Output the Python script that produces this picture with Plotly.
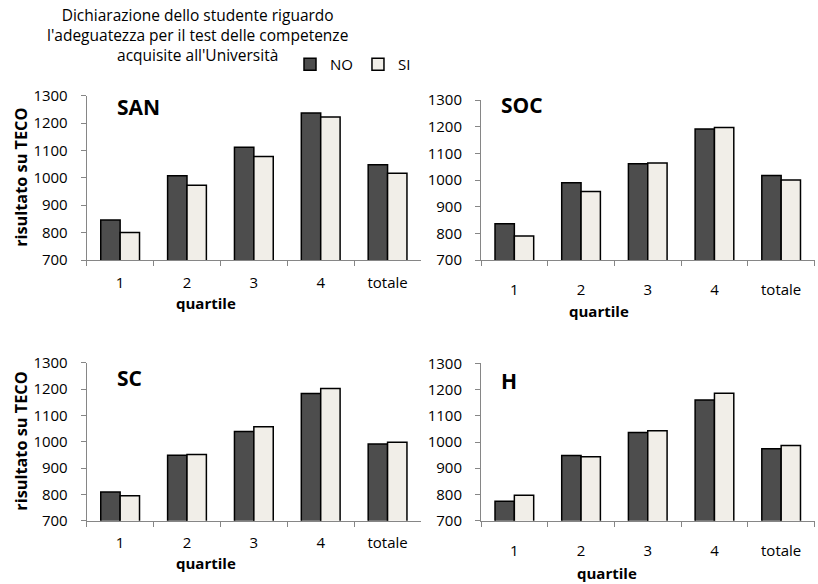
import plotly.graph_objects as go

categories = ["1", "2", "3", "4", "totale"]
panels = ["SAN", "SOC", "SC", "H"]
san_no = [846, 1008, 1112, 1237, 1048]
san_si = [800, 973, 1078, 1222, 1017]
soc_no = [836, 990, 1061, 1191, 1017]
soc_si = [790, 957, 1064, 1197, 1000]
sc_no = [809, 949, 1039, 1183, 991]
sc_si = [795, 951, 1057, 1202, 998]
h_no = [774, 949, 1036, 1160, 974]
h_si = [797, 944, 1043, 1186, 987]
series_names = ["NO", "SI"]
yticks = [700, 800, 900, 1000, 1100, 1200, 1300]
title_text = ("Dichiarazione dello studente riguardo<br>"
              "l'adeguatezza per il test delle competenze<br>"
              "acquisite all'Università")
y_title = "risultato su TECO"
x_title = "quartile"

data = {"SAN": (san_no, san_si), "SOC": (soc_no, soc_si),
        "SC": (sc_no, sc_si), "H": (h_no, h_si)}

W, H = 818, 584
FONT = "Open Sans, sans-serif"
C_NO = "#4d4d4d"
C_SI = "#f1eee8"
AX = "#868686"

# pixel layout: (x0, x1, ytop, ybottom)
boxes = {
    "SAN": (86.7, 421, 95.7, 260),
    "SOC": (481, 814.5, 100, 260),
    "SC": (86.7, 421, 362.7, 520.7),
    "H": (481, 814.5, 363.3, 520.7),
}
xlab_standoff = {"SAN": 9, "SOC": 16, "SC": 8, "H": 16}
panel_label_pos = {"SAN": (115, 107), "SOC": (499, 105), "SC": (115, 378), "H": (499, 381)}
xtitle_pos = {"SAN": (206, 303), "SOC": (599, 311), "SC": (206, 563), "H": (607, 573)}

fig = go.Figure()
layout = dict(
    template="none",
    width=W, height=H, margin=dict(l=0, r=0, t=0, b=0, pad=0, autoexpand=False),
    paper_bgcolor="white", plot_bgcolor="white",
    font=dict(family=FONT, size=15, color="#000"),
    barmode="group", bargap=0.42, bargroupgap=0,
    showlegend=True,
    legend=dict(orientation="h", x=290 / W, y=1 - 48 / H, xanchor="left", yanchor="top",
                font=dict(size=15, family=FONT), bgcolor="rgba(0,0,0,0)",
                itemwidth=30, tracegroupgap=0, traceorder="normal"),
)
annotations = []

for i, p in enumerate(panels):
    suf = "" if i == 0 else str(i + 1)
    no_vals, si_vals = data[p]
    for j, (vals, col) in enumerate(zip((no_vals, si_vals), (C_NO, C_SI))):
        fig.add_trace(go.Bar(
            x=categories, y=vals, name=series_names[j],
            marker=dict(color=col, line=dict(color="#000", width=1.5)),
            xaxis="x" + suf, yaxis="y" + suf,
            showlegend=(i == 0), legendgroup=series_names[j],
        ))
    x0, x1, yt, yb = boxes[p]
    layout["xaxis" + suf] = dict(
        type="category", categoryorder="array", categoryarray=categories,
        domain=[x0 / W, x1 / W], anchor="y" + suf, automargin=False,
        showline=True, linecolor=AX, linewidth=1,
        ticks="outside", tickson="boundaries", ticklen=5, tickcolor=AX,
        showgrid=False, zeroline=False, tickfont=dict(size=15, family=FONT, color="#000"),
        ticklabelstandoff=xlab_standoff[p], fixedrange=True,
    )
    layout["yaxis" + suf] = dict(
        domain=[1 - yb / H, 1 - yt / H], anchor="x" + suf, automargin=False,
        range=[700, 1300], tickvals=yticks,
        showline=True, linecolor=AX, linewidth=1,
        ticks="outside", ticklen=5, tickcolor=AX,
        showgrid=False, zeroline=False, tickfont=dict(size=15, family=FONT, color="#000"),
        ticklabelstandoff=10, fixedrange=True,
    )
    lx, ly = panel_label_pos[p]
    annotations.append(dict(text="<b>%s</b>" % p, x=lx / W, y=1 - ly / H, xref="paper", yref="paper",
                            xanchor="left", yanchor="middle", showarrow=False,
                            font=dict(size=21, family=FONT)))
    tx, ty = xtitle_pos[p]
    annotations.append(dict(text="<b>%s</b>" % x_title, x=tx / W, y=1 - ty / H, xref="paper", yref="paper",
                            xanchor="center", yanchor="middle", showarrow=False,
                            font=dict(size=15, family=FONT)))
    if p in ("SAN", "SC"):
        cy = (yt + yb) / 2
        annotations.append(dict(text="<b>%s</b>" % y_title, x=21 / W, y=1 - cy / H, xref="paper", yref="paper",
                                xanchor="center", yanchor="middle", textangle=-90, showarrow=False,
                                font=dict(size=16.3, family=FONT)))

annotations.append(dict(text=title_text, x=197 / W, y=1 - 35 / H, xref="paper", yref="paper",
                        xanchor="center", yanchor="middle", showarrow=False, align="center",
                        font=dict(size=15.5, family=FONT)))
layout["annotations"] = annotations
fig.update_layout(**layout)
fig.write_html("out.html", config={"displayModeBar": False},
               post_script="document.body.style.margin='0';document.body.style.overflow='hidden';")
